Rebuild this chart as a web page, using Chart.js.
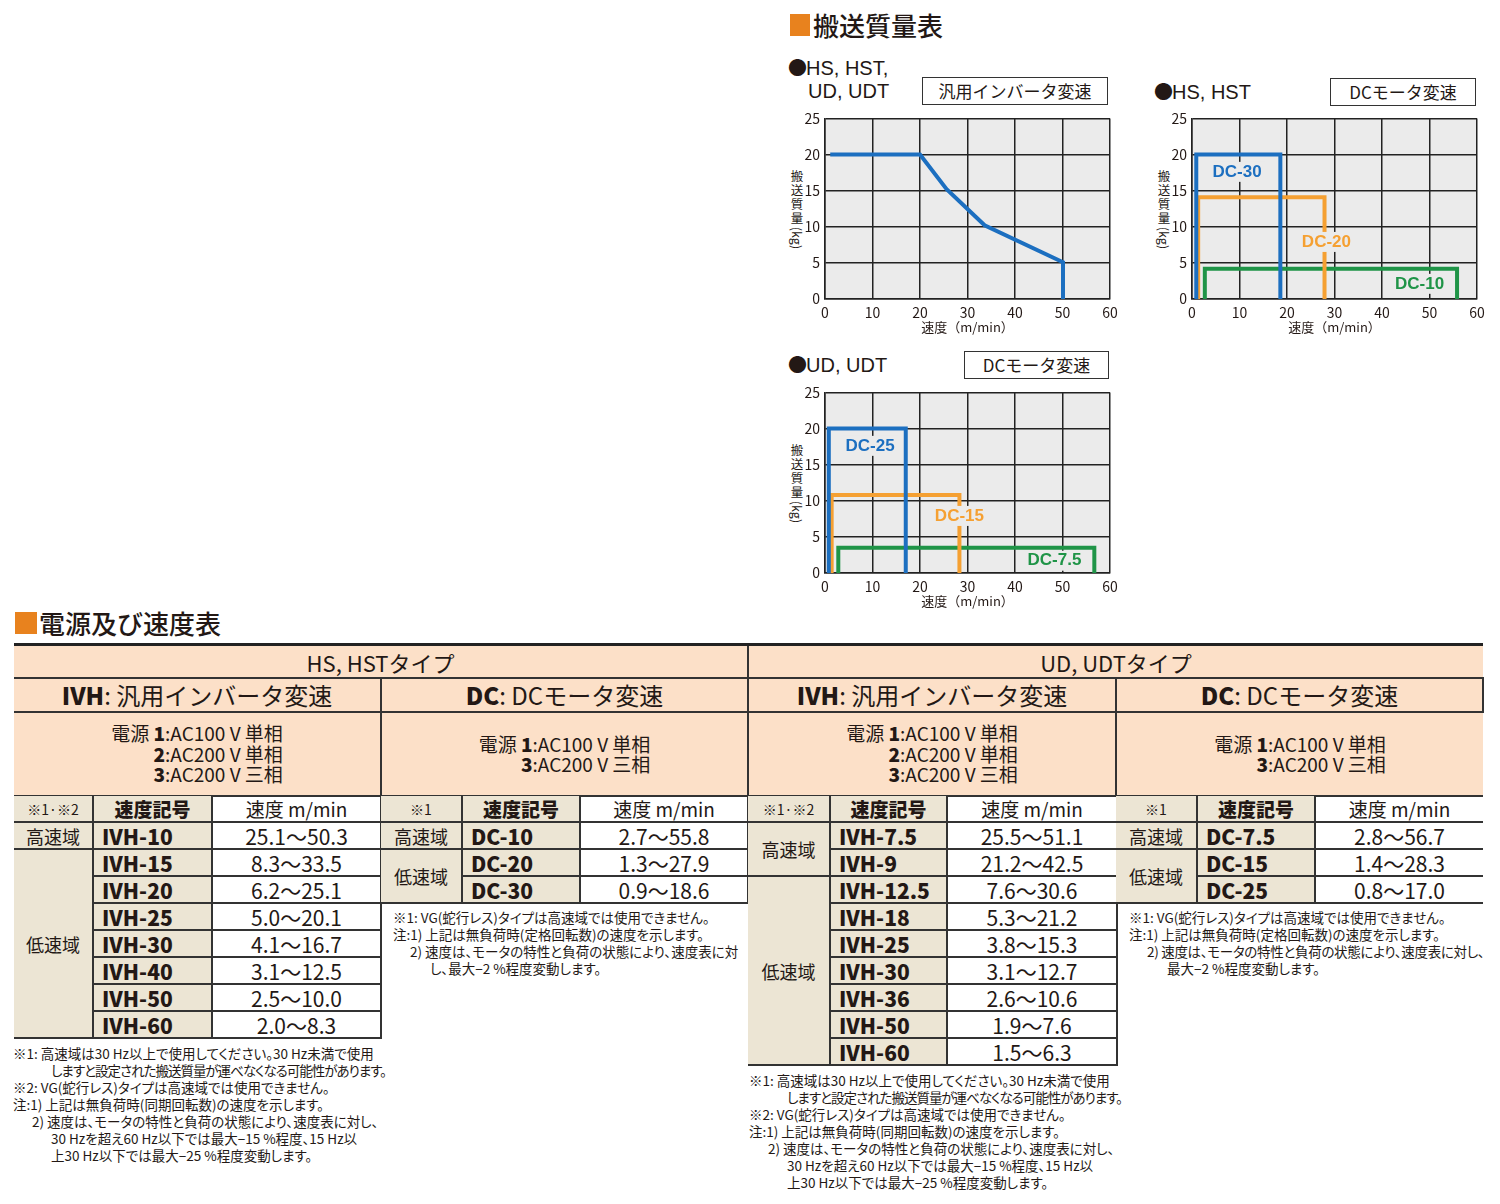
<!DOCTYPE html>
<html lang="ja">
<head>
<meta charset="UTF-8">
<title>搬送質量表 / 電源及び速度表</title>
<script src="https://cdn.jsdelivr.net/npm/chart.js@4.4.1/dist/chart.umd.min.js"></script>
<style>
  body { margin: 0; width: 1500px; height: 1204px; background: #fff; position: relative; overflow: hidden;
         font-family: "Noto Sans CJK JP", sans-serif; color: #231815; }
  .sq { position: absolute; background: #e8821e; }
  .h { position: absolute; font-size: 26px; line-height: 34px; font-weight: 500; }
  .ser { position: absolute; font-family: "Liberation Sans", Arial, sans-serif; font-size: 20px; line-height: 24px; white-space: nowrap; }
  .ser .dot { font-family: "Noto Sans CJK JP", sans-serif; font-size: 19px; margin-right: -1px; }
  .box { position: absolute; box-sizing: border-box; border: 1.5px solid #333; font-size: 17px; text-align: center; }
  .yt { position: absolute; width: 14px; font-size: 12.5px; line-height: 14px; text-align: center; }
  .yt .rk { position: absolute; left: -6px; top: 62px; width: 26px; height: 14px; line-height: 14px; transform: rotate(90deg); }
  .cv { position: absolute; }
  table.tb { position: absolute; border-collapse: collapse; table-layout: fixed; }
  .tb td { border: 2px solid #333; padding: 0; text-align: center; vertical-align: middle; white-space: nowrap; overflow: hidden; }
  .tb tr td:first-child { border-left: none; }
  .hdr td { background: #fce0c8; }
  .hdr tr:first-child td { border-top: 3px solid #222; }
  .hdr tr:last-child td:last-child, .hdr tr:first-child td:last-child { border-right: none; }
  .hdr .r1 td { height: 31px; line-height: 28px; font-size: 22px; }
  .hdr .r2 td { height: 32px; line-height: 28px; font-size: 24px; }
  .hdr .r2 b { font-weight: 900; }
  .hdr .r3 td { height: 82px; font-size: 19px; line-height: 20.5px; }
  .pw { display: inline-block; text-align: right; }
  .pw b { font-weight: 900; }
  .blk tr:first-child td { border-top: none; }
  .blk td { height: 25px; line-height: 24px; font-size: 21px; }
  .blk .bg { background: #ece5d4; }
  .blk .nt { font-size: 14px; }
  .blk .hd { font-size: 19px; font-weight: 900; }
  .blk .hv { font-size: 19px; }
  .blk .zone { font-size: 18px; }
  .blk .code { text-align: left; padding-left: 8px; font-weight: 900; }
  .noRight td:last-child { border-right: none; }
  .notes { position: absolute; font-size: 13.5px; line-height: 17px; font-feature-settings: "palt"; }
  .notes div { white-space: nowrap; }
  .notes .tight { letter-spacing: -1px; }
  .notes .snug { letter-spacing: -0.3px; }
</style>
</head>
<body>

<!-- 搬送質量表 -->
<div class="sq" style="left:790px;top:14px;width:20px;height:22px"></div>
<div class="h" style="left:813px;top:8px">搬送質量表</div>

<div class="ser" style="left:788px;top:55px"><span class="dot">●</span>HS, HST,</div>
<div class="ser" style="left:808px;top:79px">UD, UDT</div>
<div class="box" style="left:922px;top:77px;width:186px;height:28px;line-height:25px">汎用インバータ変速</div>

<div class="ser" style="left:1154px;top:79px"><span class="dot">●</span>HS, HST</div>
<div class="box" style="left:1330px;top:78px;width:146px;height:28px;line-height:25px">DCモータ変速</div>

<div class="ser" style="left:788px;top:352px"><span class="dot">●</span>UD, UDT</div>
<div class="box" style="left:964px;top:351px;width:145px;height:28px;line-height:25px">DCモータ変速</div>

<div class="yt" style="left:790px;top:169px"><div>搬</div><div>送</div><div>質</div><div>量</div><div class="rk">(kg)</div></div>
<div class="yt" style="left:1157px;top:169px"><div>搬</div><div>送</div><div>質</div><div>量</div><div class="rk">(kg)</div></div>
<div class="yt" style="left:790px;top:443px"><div>搬</div><div>送</div><div>質</div><div>量</div><div class="rk">(kg)</div></div>

<div class="cv" style="left:780px;top:105px;width:345px;height:230px"><canvas id="ivhChart"></canvas></div>
<div class="cv" style="left:1147px;top:105px;width:345px;height:230px"><canvas id="hsDcChart"></canvas></div>
<div class="cv" style="left:780px;top:379px;width:345px;height:230px"><canvas id="udDcChart"></canvas></div>

<!-- 電源及び速度表 -->
<div class="sq" style="left:15px;top:612px;width:22px;height:22px"></div>
<div class="h" style="left:39px;top:606px">電源及び速度表</div>

<table class="tb hdr" style="left:14px;top:643px;width:1469px">
  <colgroup><col style="width:367px"><col style="width:367px"><col style="width:368px"><col style="width:367px"></colgroup>
  <tr class="r1"><td colspan="2">HS, HSTタイプ</td><td colspan="2">UD, UDTタイプ</td></tr>
  <tr class="r2"><td><b>IVH</b>: 汎用インバータ変速</td><td><b>DC</b>: DCモータ変速</td><td><b>IVH</b>: 汎用インバータ変速</td><td><b>DC</b>: DCモータ変速</td></tr>
  <tr class="r3">
    <td><span class="pw">電源 <b>1</b>:AC100 V 単相<br><b>2</b>:AC200 V 単相<br><b>3</b>:AC200 V 三相</span></td>
    <td><span class="pw">電源 <b>1</b>:AC100 V 単相<br><b>3</b>:AC200 V 三相</span></td>
    <td><span class="pw">電源 <b>1</b>:AC100 V 単相<br><b>2</b>:AC200 V 単相<br><b>3</b>:AC200 V 三相</span></td>
    <td><span class="pw">電源 <b>1</b>:AC100 V 単相<br><b>3</b>:AC200 V 三相</span></td>
  </tr>
</table>

<table class="tb blk" style="left:14px;top:796px;width:367px">
  <colgroup><col style="width:79px"><col style="width:119px"><col style="width:169px"></colgroup>
  <tbody id="hsIvhTable"></tbody>
</table>
<table class="tb blk" style="left:381px;top:796px;width:367px">
  <colgroup><col style="width:81px"><col style="width:118px"><col style="width:168px"></colgroup>
  <tbody id="hsDcTable"></tbody>
</table>
<table class="tb blk" style="left:748px;top:796px;width:369px">
  <colgroup><col style="width:82px"><col style="width:117px"><col style="width:170px"></colgroup>
  <tbody id="udIvhTable"></tbody>
</table>
<table class="tb blk noRight" style="left:1116px;top:796px;width:367px">
  <colgroup><col style="width:81px"><col style="width:118px"><col style="width:168px"></colgroup>
  <tbody id="udDcTable"></tbody>
</table>

<div class="notes" style="left:13px;top:1045px">
  <div>※1: 高速域は30 Hz以上で使用してください。30 Hz未満で使用</div>
  <div class="tight" style="padding-left:38px">しますと設定された搬送質量が運べなくなる可能性があります。</div>
  <div>※2: VG(蛇行レス)タイプは高速域では使用できません。</div>
  <div>注:1) 上記は無負荷時(同期回転数)の速度を示します。</div>
  <div style="padding-left:19px">2) 速度は、モータの特性と負荷の状態により、速度表に対し、</div>
  <div style="padding-left:38px">30 Hzを超え60 Hz以下では最大−15 %程度、15 Hz以</div>
  <div style="padding-left:38px">上30 Hz以下では最大−25 %程度変動します。</div>
</div>
<div class="notes" style="left:393px;top:909px">
  <div>※1: VG(蛇行レス)タイプは高速域では使用できません。</div>
  <div>注:1) 上記は無負荷時(定格回転数)の速度を示します。</div>
  <div style="padding-left:17px">2) 速度は、モータの特性と負荷の状態により、速度表に対</div>
  <div style="padding-left:37px">し、最大−2 %程度変動します。</div>
</div>
<div class="notes" style="left:749px;top:1072px">
  <div>※1: 高速域は30 Hz以上で使用してください。30 Hz未満で使用</div>
  <div class="tight" style="padding-left:38px">しますと設定された搬送質量が運べなくなる可能性があります。</div>
  <div>※2: VG(蛇行レス)タイプは高速域では使用できません。</div>
  <div>注:1) 上記は無負荷時(同期回転数)の速度を示します。</div>
  <div style="padding-left:19px">2) 速度は、モータの特性と負荷の状態により、速度表に対し、</div>
  <div style="padding-left:38px">30 Hzを超え60 Hz以下では最大−15 %程度、15 Hz以</div>
  <div style="padding-left:38px">上30 Hz以下では最大−25 %程度変動します。</div>
</div>
<div class="notes" style="left:1129px;top:909px">
  <div>※1: VG(蛇行レス)タイプは高速域では使用できません。</div>
  <div>注:1) 上記は無負荷時(定格回転数)の速度を示します。</div>
  <div class="snug" style="padding-left:18px">2) 速度は、モータの特性と負荷の状態により、速度表に対し、</div>
  <div style="padding-left:38px">最大−2 %程度変動します。</div>
</div>

<script>
// 汎用インバータ変速 (HS, HST, UD, UDT) : speed m/min -> mass kg
const ivhSpeed = [1.1, 20, 25.6, 33.6, 50.1, 50.1];
const ivhMass = [20, 20, 15.2, 10.2, 5.1, 0];

// DCモータ変速 HS, HST
const hsDcNames = ['DC-30', 'DC-20', 'DC-10'];
const hsDcMin = [0.9, 1.3, 2.7];
const hsDcMax = [18.6, 27.9, 55.8];
const hsDcMass = [20, 14.1, 4.2];

// DCモータ変速 UD, UDT
const udDcNames = ['DC-25', 'DC-15', 'DC-7.5'];
const udDcMin = [0.8, 1.4, 2.8];
const udDcMax = [17.0, 28.3, 56.7];
const udDcMass = [20, 10.8, 3.5];

// table rows
const hsIvhCodes = ['IVH-10', 'IVH-15', 'IVH-20', 'IVH-25', 'IVH-30', 'IVH-40', 'IVH-50', 'IVH-60'];
const hsIvhRanges = ['25.1～50.3', '8.3～33.5', '6.2～25.1', '5.0～20.1', '4.1～16.7', '3.1～12.5', '2.5～10.0', '2.0～8.3'];
const hsDcCodes = ['DC-10', 'DC-20', 'DC-30'];
const hsDcRanges = ['2.7～55.8', '1.3～27.9', '0.9～18.6'];
const udIvhCodes = ['IVH-7.5', 'IVH-9', 'IVH-12.5', 'IVH-18', 'IVH-25', 'IVH-30', 'IVH-36', 'IVH-50', 'IVH-60'];
const udIvhRanges = ['25.5～51.1', '21.2～42.5', '7.6～30.6', '5.3～21.2', '3.8～15.3', '3.1～12.7', '2.6～10.6', '1.9～7.6', '1.5～6.3'];
const udDcCodes = ['DC-7.5', 'DC-15', 'DC-25'];
const udDcRanges = ['2.8～56.7', '1.4～28.3', '0.8～17.0'];

const BLUE = '#1c6fc0', ORANGE = '#f5a032', GREEN = '#1f9447';
const PLOT_BG = '#ebebeb';

function buildBlock(id, note, groups, codes, ranges) {
    let h = '<tr><td class="bg nt">' + note + '</td><td class="bg hd">速度記号</td><td class="hv">速度 m/min</td></tr>';
    let r = 0;
    groups.forEach(function (g) {
        for (let k = 0; k < g[1]; k++, r++) {
            h += '<tr>' + (k === 0 ? '<td class="bg zone" rowspan="' + g[1] + '">' + g[0] + '</td>' : '') +
                 '<td class="bg code">' + codes[r] + '</td><td>' + ranges[r] + '</td></tr>';
        }
    });
    document.getElementById(id).innerHTML = h;
}
buildBlock('hsIvhTable', '※1·※2', [['高速域', 1], ['低速域', 7]], hsIvhCodes, hsIvhRanges);
buildBlock('hsDcTable', '※1', [['高速域', 1], ['低速域', 2]], hsDcCodes, hsDcRanges);
buildBlock('udIvhTable', '※1·※2', [['高速域', 2], ['低速域', 7]], udIvhCodes, udIvhRanges);
buildBlock('udDcTable', '※1', [['高速域', 1], ['低速域', 2]], udDcCodes, udDcRanges);

// charts
Chart.defaults.font.family = '"Noto Sans CJK JP", sans-serif';
Chart.defaults.color = '#231815';

const plotBg = {
    id: 'plotBg',
    beforeDraw(chart) {
        const a = chart.chartArea, ctx = chart.ctx;
        ctx.save();
        ctx.fillStyle = PLOT_BG;
        ctx.fillRect(a.left, a.top, a.width, a.height);
        ctx.restore();
    }
};

// series name drawn inside the plot
const seriesLabels = {
    id: 'seriesLabels',
    afterDatasetsDraw(chart, args, opts) {
        if (!opts.at) return;
        const ctx = chart.ctx, x = chart.scales.x, y = chart.scales.y;
        ctx.save();
        ctx.font = 'bold 17px "Liberation Sans", Arial, sans-serif';
        ctx.textAlign = 'center';
        ctx.textBaseline = 'middle';
        chart.data.datasets.forEach(function (ds, i) {
            const p = opts.at[i];
            const px = x.getPixelForValue(p[0]), py = y.getPixelForValue(p[1]);
            const w = ctx.measureText(ds.label).width;
            ctx.fillStyle = PLOT_BG;
            ctx.fillRect(px - w / 2 - 3, py - 10, w + 6, 20);
            ctx.fillStyle = ds.borderColor;
            ctx.fillText(ds.label, px, py);
        });
        ctx.restore();
    }
};

function scalesCfg() {
    const grid = { color: '#222', lineWidth: 1.5, drawTicks: false };
    const border = { color: '#222', width: 1.5 };
    return {
        x: {
            type: 'linear', min: 0, max: 60,
            ticks: { stepSize: 10, padding: 5, maxRotation: 0, font: { size: 14 } },
            grid: grid, border: border,
            title: { display: true, text: '速度（m/min）', font: { size: 13 }, padding: 0 },
            afterFit(s) { s.height = 36; }
        },
        y: {
            min: 0, max: 25,
            ticks: { stepSize: 5, padding: 5, font: { size: 14 } },
            grid: grid, border: border,
            afterFit(s) { s.width = 45; }
        }
    };
}

function baseOptions(labelAt) {
    return {
        responsive: true,
        maintainAspectRatio: false,
        animation: false,
        layout: { padding: { left: 0, top: 12, right: 15, bottom: 0 } },
        elements: { point: { radius: 0 }, line: { borderWidth: 4, tension: 0, borderJoinStyle: 'miter', borderCapStyle: 'butt' } },
        plugins: { legend: { display: false }, tooltip: { enabled: false }, seriesLabels: { at: labelAt } },
        scales: scalesCfg()
    };
}

function boxDatasets(names, mins, maxs, mass, colors) {
    return names.map(function (n, i) {
        return {
            label: n,
            data: [
                { x: mins[i], y: 0 }, { x: mins[i], y: mass[i] },
                { x: maxs[i], y: mass[i] }, { x: maxs[i], y: 0 }
            ],
            borderColor: colors[i],
            fill: false
        };
    });
}

new Chart(document.getElementById('ivhChart'), {
    type: 'line',
    data: {
        datasets: [{
            label: 'IVH',
            data: ivhSpeed.map(function (v, i) { return { x: v, y: ivhMass[i] }; }),
            borderColor: BLUE,
            fill: false
        }]
    },
    options: baseOptions(null),
    plugins: [plotBg, seriesLabels]
});

new Chart(document.getElementById('hsDcChart'), {
    type: 'line',
    data: { datasets: boxDatasets(hsDcNames, hsDcMin, hsDcMax, hsDcMass, [BLUE, ORANGE, GREEN]) },
    options: baseOptions([[9.5, 17.6], [28.3, 7.9], [47.9, 2.1]]),
    plugins: [plotBg, seriesLabels]
});

new Chart(document.getElementById('udDcChart'), {
    type: 'line',
    data: { datasets: boxDatasets(udDcNames, udDcMin, udDcMax, udDcMass, [BLUE, ORANGE, GREEN]) },
    options: baseOptions([[9.5, 17.6], [28.3, 7.9], [48.3, 1.7]]),
    plugins: [plotBg, seriesLabels]
});
</script>
</body>
</html>
